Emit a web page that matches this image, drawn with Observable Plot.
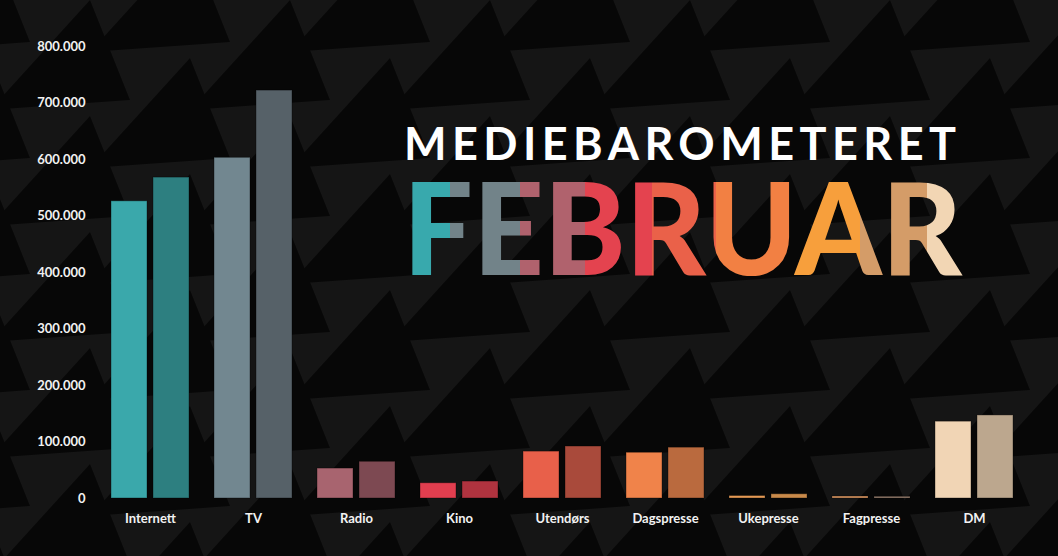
<!DOCTYPE html>
<html>
<head>
<meta charset="utf-8">
<script src="https://cdn.jsdelivr.net/npm/d3@7"></script>
<script src="https://cdn.jsdelivr.net/npm/@observablehq/plot@0.6"></script>
<style>
  html, body { margin: 0; padding: 0; }
  body {
    width: 1058px; height: 556px; overflow: hidden;
    background-color: #151515;
    background-image: url("data:image/svg+xml;utf8,<svg xmlns='http://www.w3.org/2000/svg' width='200' height='116'><polygon points='-10,110 90,0 130,100' fill='%23070707'/><polygon points='90,168 190,58 230,158' fill='%23070707'/><polygon points='-110,168 -10,58 30,158' fill='%23070707'/><polygon points='90,52 190,-58 230,42' fill='%23070707'/><polygon points='-110,52 -10,-58 30,42' fill='%23070707'/></svg>");
  }
  #chart { position: absolute; left: 0; top: 0; }
</style>
</head>
<body>
<div id="chart"></div>
<script>
const categories = ["Internett", "TV", "Radio", "Kino", "Utendørs", "Dagspresse", "Ukepresse", "Fagpresse", "DM"];
const series1 = [526000, 603000, 53000, 27000, 83000, 81000, 4400, 3500, 136000];
const series2 = [568000, 722000, 65000, 30000, 92000, 90000, 7500, 3000, 147000];
const colors1 = ["#3aa8ab", "#728790", "#a8646f", "#e23e4f", "#e8604a", "#f0834a", "#e59a55", "#d99560", "#f1d5b5"];
const colors2 = ["#2d7f80", "#566168", "#7d4952", "#b0333f", "#a94a3b", "#ba6a3e", "#c98a4a", "#9a8070", "#bca78e"];
const yTicks = [0, 100000, 200000, 300000, 400000, 500000, 600000, 700000, 800000];
const titleText = "MEDIEBAROMETERET";
const monthText = "FEBRUAR";

const rows = [];
categories.forEach((c, i) => {
  rows.push({category: c, series: "a", value: series1[i], color: colors1[i]});
  rows.push({category: c, series: "b", value: series2[i], color: colors2[i]});
});

const fmt = d => d3.format(",")(d).replace(/,/g, ".");

const svg = Plot.plot({
  width: 1058,
  height: 556,
  marginLeft: 109,
  marginRight: 44,
  marginTop: 46,
  marginBottom: 58,
  style: {background: "transparent", color: "#f2f2f2", fontFamily: "Lato, 'Open Sans', sans-serif", fontWeight: 700, fontSize: "13px"},
  fx: {domain: categories, paddingInner: 0.245, paddingOuter: 0, axis: "bottom", tickSize: 0, tickPadding: 15, label: null},
  x: {domain: ["a", "b"], paddingInner: 0.143, paddingOuter: 0, axis: null},
  y: {domain: [0, 800000], ticks: yTicks, tickFormat: fmt, tickSize: 0, tickPadding: 26, label: null},
  color: {type: "identity"},
  marks: [
    Plot.barY(rows, {fx: "category", x: "series", y: "value", fill: "color", stroke: "#000", strokeOpacity: 0.35, strokeWidth: 1})
  ]
});

document.getElementById("chart").appendChild(svg);

// Title overlay
const s = d3.select(svg);
const stops = [
  [0, "#38a9ad"], [450, "#38a9ad"], [450, "#728389"], [520, "#728389"], [520, "#b0626d"],
  [585, "#b0626d"], [585, "#e4434f"], [652, "#e4434f"], [652, "#ea6149"], [716, "#ea6149"],
  [716, "#f28043"], [793, "#f28043"], [793, "#f79f3c"], [860, "#f79f3c"], [860, "#d49c68"],
  [927, "#d49c68"], [927, "#f2d6b4"], [1058, "#f2d6b4"]
];
const defs = s.append("defs");
const grad = defs.append("linearGradient").attr("id", "febgrad")
  .attr("gradientUnits", "userSpaceOnUse").attr("x1", 0).attr("x2", 1058).attr("y1", 0).attr("y2", 0);
stops.forEach(([x, c]) => grad.append("stop").attr("offset", x / 1058).attr("stop-color", c));

s.append("text")
  .attr("x", 404).attr("y", 160)
  .attr("text-anchor", "start")
  .attr("fill", "#ffffff")
  .attr("font-family", "Lato, 'Open Sans', sans-serif")
  .attr("font-weight", 700)
  .attr("font-size", 45)
  .attr("textLength", 552)
  .attr("lengthAdjust", "spacing")
  .text(titleText);

s.append("text")
  .attr("x", 403).attr("y", 275)
  .attr("text-anchor", "start")
  .attr("fill", "url(#febgrad)")
  .attr("font-family", "Lato, 'Open Sans', sans-serif")
  .attr("font-weight", 900)
  .attr("font-size", 127)
  .attr("textLength", 559)
  .attr("lengthAdjust", "spacingAndGlyphs")
  .text(monthText);
</script>
</body>
</html>
